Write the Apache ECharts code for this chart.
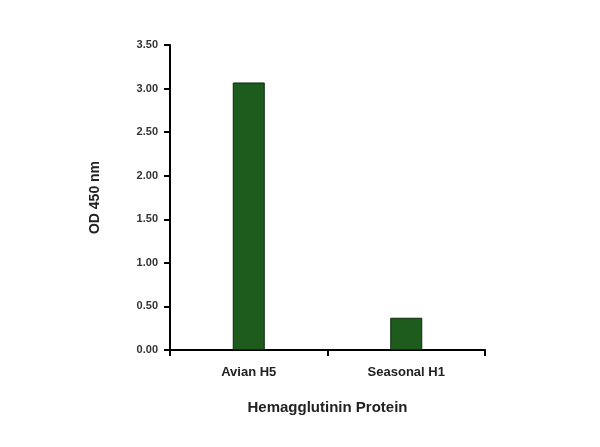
<!DOCTYPE html>
<html>
<head>
<meta charset="utf-8">
<script src="https://cdn.jsdelivr.net/npm/echarts@6/dist/echarts.min.js"></script>
<style>
  html, body { margin: 0; padding: 0; background: #fff; }
  #chart { width: 600px; height: 447px; }
</style>
</head>
<body>
<div id="chart"></div>
<script>
var categories = ['Avian H5', 'Seasonal H1'];
var odValues = [3.07, 0.37];

var myChart = echarts.init(document.getElementById('chart'));
var option = {
    animation: false,
    grid: { left: 170, right: 115, top: 45, bottom: 97 },
    xAxis: {
        type: 'category',
        data: categories,
        name: 'Hemagglutinin Protein',
        nameLocation: 'middle',
        nameGap: 50,
        nameTextStyle: { fontFamily: 'Liberation Sans', fontWeight: 'bold', fontSize: 15, color: '#222' },
        axisLine: { lineStyle: { color: '#000', width: 2 } },
        axisTick: { show: true, length: 6, lineStyle: { color: '#000', width: 2 } },
        axisLabel: { fontFamily: 'Liberation Sans', fontWeight: 'bold', fontSize: 13, color: '#222', margin: 16 }
    },
    yAxis: {
        type: 'value',
        min: 0,
        max: 3.5,
        interval: 0.5,
        name: 'OD 450 nm',
        nameLocation: 'middle',
        nameGap: 68,
        nameTextStyle: { fontFamily: 'Liberation Sans', fontWeight: 'bold', fontSize: 14, color: '#222' },
        axisLine: { show: true, lineStyle: { color: '#000', width: 2 } },
        axisTick: { show: true, length: 6, lineStyle: { color: '#000', width: 2 } },
        splitLine: { show: false },
        axisLabel: {
            fontFamily: 'Liberation Sans', fontWeight: 'bold', fontSize: 11, color: '#333', margin: 12,
            formatter: function (v) { return v.toFixed(2); }
        }
    },
    series: [{
        type: 'bar',
        data: odValues,
        barWidth: 32,
        itemStyle: { color: '#1e5c1e', borderColor: '#0a2a0a', borderWidth: 1 }
    }]
};
myChart.setOption(option);
</script>
</body>
</html>
